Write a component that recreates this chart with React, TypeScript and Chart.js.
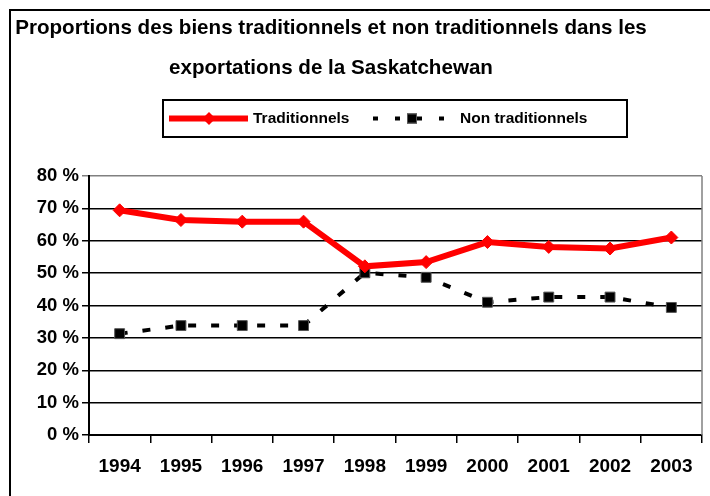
import React, { useEffect, useRef } from "react";
import { Chart, registerables } from "chart.js";

Chart.register(...registerables);

const TITLE_LINES = [
  "Proportions des biens traditionnels et non traditionnels dans les",
  "exportations de la Saskatchewan",
];
const YEARS = ["1994", "1995", "1996", "1997", "1998", "1999", "2000", "2001", "2002", "2003"];
const TRADITIONNELS = [69.4, 66.4, 65.9, 65.9, 52.1, 53.4, 59.6, 58.1, 57.6, 61.0];
const NON_TRADITIONNELS = [31.3, 33.8, 33.8, 33.8, 50.1, 48.7, 41.0, 42.6, 42.6, 39.4];
const SERIES_LABELS = ["Traditionnels", "Non traditionnels"];
const Y_TICKS_MAX = 80;
const Y_STEP = 10;

const FONT = '"Liberation Sans", Arial, Helvetica, sans-serif';
const RED = "#ff0000";
const DASH = [8, 15];

const framePlugin = {
  id: "frameTitleLegend",
  beforeDatasetsDraw(chart: any) {
    const ctx = chart.ctx;
    const a = chart.chartArea;
    ctx.save();
    ctx.strokeStyle = "#808080";
    ctx.lineWidth = 1.5;
    ctx.beginPath();
    ctx.moveTo(a.right, a.top);
    ctx.lineTo(a.right, a.bottom);
    ctx.stroke();
    ctx.restore();
  },
  afterDraw(chart: any) {
    const ctx = chart.ctx;
    ctx.save();
    // outer frame (extends past the visible area on right/bottom)
    ctx.strokeStyle = "#000";
    ctx.lineWidth = 2;
    ctx.strokeRect(10, 10, 740, 540);

    // title
    ctx.fillStyle = "#000";
    ctx.font = `bold 20.6px ${FONT}`;
    ctx.textAlign = "center";
    ctx.textBaseline = "middle";
    TITLE_LINES.forEach((line, i) => ctx.fillText(line, 331, 28 + i * 40));

    // legend box
    ctx.lineWidth = 2;
    ctx.strokeRect(163, 100, 464, 37);
    const ly = 118.5;
    const ds = chart.data.datasets;

    // entry 1: red line with diamond
    ctx.strokeStyle = RED;
    ctx.lineWidth = 6;
    ctx.beginPath();
    ctx.moveTo(169, ly);
    ctx.lineTo(248, ly);
    ctx.stroke();
    ctx.fillStyle = RED;
    ctx.beginPath();
    ctx.moveTo(209, ly - 6.5);
    ctx.lineTo(215.5, ly);
    ctx.lineTo(209, ly + 6.5);
    ctx.lineTo(202.5, ly);
    ctx.closePath();
    ctx.fill();

    ctx.fillStyle = "#000";
    ctx.font = `bold 15.5px ${FONT}`;
    ctx.textAlign = "left";
    ctx.textBaseline = "middle";
    ctx.fillText(ds[0].label, 253, ly);

    // entry 2: dashed black line with square
    ctx.strokeStyle = "#000";
    ctx.lineWidth = 4;
    ctx.setLineDash([5, 17]);
    ctx.beginPath();
    ctx.moveTo(373, ly);
    ctx.lineTo(452, ly);
    ctx.stroke();
    ctx.setLineDash([]);
    ctx.fillStyle = "#000";
    ctx.fillRect(407, ly - 5, 10, 10);
    ctx.strokeStyle = "#555";
    ctx.lineWidth = 1;
    ctx.strokeRect(407.5, ly - 4.5, 9, 9);
    ctx.fillStyle = "#000";
    ctx.fillText(ds[1].label, 460, ly);
    ctx.restore();
  },
};

export default function App() {
  const ref = useRef<HTMLCanvasElement | null>(null);

  useEffect(() => {
    if (!ref.current) return;
    const chart = new Chart(ref.current, {
      type: "line",
      data: {
        labels: YEARS,
        datasets: [
          {
            label: SERIES_LABELS[0],
            data: TRADITIONNELS,
            borderColor: RED,
            backgroundColor: RED,
            borderWidth: 6,
            tension: 0,
            pointStyle: "rectRot",
            pointRadius: 6.5,
            pointBorderWidth: 1,
            pointBorderColor: RED,
            pointBackgroundColor: RED,
          },
          {
            label: SERIES_LABELS[1],
            data: NON_TRADITIONNELS,
            borderColor: "#000",
            backgroundColor: "#000",
            borderWidth: 4,
            borderDash: DASH,
            borderCapStyle: "butt",
            tension: 0,
            pointStyle: "rect",
            pointRadius: 7,
            pointBorderWidth: 1,
            pointBorderColor: "#555",
            pointBackgroundColor: "#000",
          },
        ],
      },
      options: {
        responsive: false,
        animation: false,
        devicePixelRatio: 1,
        layout: { padding: { top: 176, right: 7, left: 0, bottom: 0 } },
        plugins: {
          legend: { display: false },
          title: { display: false },
          tooltip: { enabled: false },
        },
        scales: {
          x: {
            type: "category",
            offset: true,
            afterFit: (s: any) => {
              s.height = 61;
            },
            grid: {
              offset: true,
              drawOnChartArea: false,
              drawTicks: true,
              tickLength: 8,
              color: "#000",
              lineWidth: 1.5,
            },
            border: { display: true, color: "#000", width: 2 },
            ticks: {
              color: "#000",
              font: { family: FONT, size: 19, weight: "bold" },
              padding: 12,
              maxRotation: 0,
              autoSkip: false,
            },
          },
          y: {
            min: 0,
            max: Y_TICKS_MAX,
            afterFit: (s: any) => {
              s.width = 89;
            },
            grid: {
              drawTicks: true,
              tickLength: 7,
              lineWidth: 1.5,
              color: (c: any) => (c.tick && c.tick.value === Y_TICKS_MAX ? "#808080" : "#000"),
            },
            border: { display: true, color: "#000", width: 2 },
            ticks: {
              stepSize: Y_STEP,
              color: "#000",
              padding: 3,
              font: { family: FONT, size: 18.5, weight: "bold" },
              callback: (v: any) => `${v} %`,
            },
          },
        },
      },
      plugins: [framePlugin],
    });
    return () => chart.destroy();
  }, []);

  return (
    <div style={{ position: "absolute", left: 0, top: 0, width: 710, height: 496, background: "#fff" }}>
      <canvas ref={ref} width={710} height={496} style={{ width: 710, height: 496, display: "block" }} />
    </div>
  );
}
